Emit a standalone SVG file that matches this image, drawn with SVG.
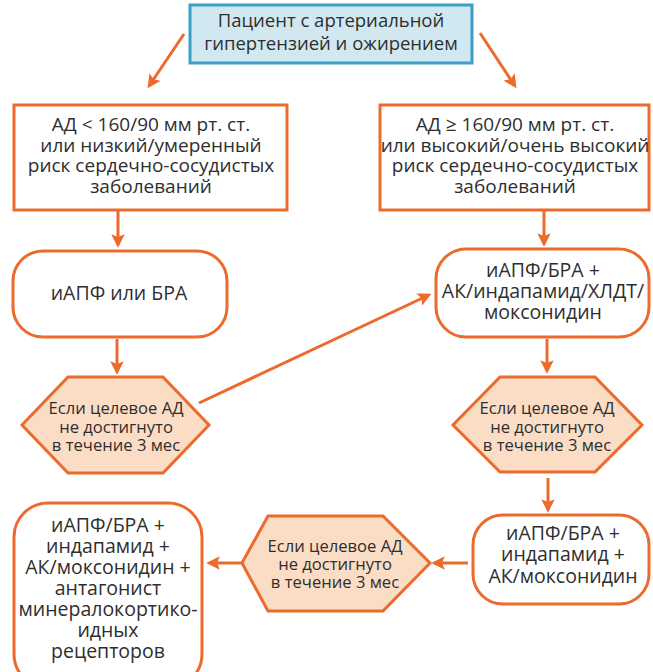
<svg xmlns="http://www.w3.org/2000/svg" width="653" height="672" viewBox="0 0 653 672">
<defs>
<style>
.t{font-family:"Open Sans","Noto Sans","Liberation Sans",sans-serif;fill:#2e2e2e;text-anchor:middle;font-size:19.5px}
.h{font-size:18.5px}
.r{font-size:19px}
.s{font-size:16.6px}
.box{fill:#fff;stroke:#ec6a2c;stroke-width:3}
.hex{fill:#fbdcc5;stroke:#ec6a2c;stroke-width:3}
.top{fill:#d2e8f1;stroke:#3aa0c8;stroke-width:3}
.c{stroke:#ec6a2c;stroke-width:3;fill:none;marker-end:url(#ah)}
</style>
<marker id="ah" viewBox="0 0 10 10" refX="8" refY="5" markerWidth="4.5" markerHeight="4.5" orient="auto" markerUnits="strokeWidth">
<path d="M0,0 L10,5 L0,10 L2,5 Z" fill="#ec6a2c"/>
</marker>
</defs>
<g id="connectors">
<line class="c" x1="184" y1="34" x2="149" y2="86"/>
<line class="c" x1="480" y1="33" x2="515" y2="86"/>
<line class="c" x1="118" y1="211" x2="118" y2="245"/>
<line class="c" x1="544" y1="211" x2="544" y2="244"/>
<line class="c" x1="117" y1="339" x2="117" y2="372"/>
<line class="c" x1="199" y1="403" x2="429" y2="295"/>
<line class="c" x1="547" y1="339" x2="547" y2="371"/>
<line class="c" x1="548" y1="478" x2="548" y2="510"/>
<line class="c" x1="468" y1="563" x2="434" y2="563"/>
<line class="c" x1="241" y1="563" x2="209" y2="563"/>
</g>
<g id="n1">
<rect class="top" x="190" y="5" width="282" height="58"/>
<text class="t h" x="331" y="27">Пациент с артериальной</text>
<text class="t h" x="331" y="50">гипертензией и ожирением</text>
</g>
<g id="n2">
<rect class="box" x="14" y="105" width="273" height="105"/>
<text class="t r" x="151" y="131">АД &lt; 160/90 мм рт. ст.</text>
<text class="t r" x="151" y="151.5">или низкий/умеренный</text>
<text class="t r" x="151" y="172">риск сердечно-сосудистых</text>
<text class="t r" x="151" y="192.5">заболеваний</text>
</g>
<g id="n3">
<rect class="box" x="380" y="105" width="269" height="105"/>
<text class="t r" x="515" y="131">АД ≥ 160/90 мм рт. ст.</text>
<text class="t r" x="515" y="151.5">или высокий/очень высокий</text>
<text class="t r" x="515" y="172">риск сердечно-сосудистых</text>
<text class="t r" x="515" y="192.5">заболеваний</text>
</g>
<g id="n4">
<rect class="box" x="13" y="251" width="214" height="86" rx="30"/>
<text class="t" x="119" y="300">иАПФ или БРА</text>
</g>
<g id="n5">
<rect class="box" x="436" y="249" width="213" height="88" rx="30"/>
<text class="t" x="543" y="277">иАПФ/БРА +</text>
<text class="t" x="543" y="298">АК/индапамид/ХЛДТ/</text>
<text class="t" x="543" y="319">моксонидин</text>
</g>
<g id="n6">
<polygon class="hex" points="68,377 163,377 209,425 163,473 68,473 22,425"/>
<text class="t s" x="116" y="414">Если целевое АД</text>
<text class="t s" x="116" y="432.5">не достигнуто</text>
<text class="t s" x="116" y="451">в течение 3 мес</text>
</g>
<g id="n7">
<polygon class="hex" points="500,377 595,377 642,425 595,472 500,472 453,425"/>
<text class="t s" x="547" y="414">Если целевое АД</text>
<text class="t s" x="547" y="432.5">не достигнуто</text>
<text class="t s" x="547" y="451">в течение 3 мес</text>
</g>
<g id="n8">
<rect class="box" x="473" y="515" width="176" height="89" rx="30"/>
<text class="t" x="563" y="540">иАПФ/БРА +</text>
<text class="t" x="563" y="561">индапамид +</text>
<text class="t" x="563" y="583">АК/моксонидин</text>
</g>
<g id="n9">
<polygon class="hex" points="268,516 383,516 430,563 383,611 268,611 242,563"/>
<text class="t s" x="335" y="552">Если целевое АД</text>
<text class="t s" x="335" y="570">не достигнуто</text>
<text class="t s" x="335" y="588">в течение 3 мес</text>
</g>
<g id="n10">
<rect class="box" x="14" y="503" width="188" height="185" rx="34"/>
<text class="t" x="108" y="532">иАПФ/БРА +</text>
<text class="t" x="108" y="553">индапамид +</text>
<text class="t" x="108" y="574">АК/моксонидин +</text>
<text class="t" x="108" y="595">антагонист</text>
<text class="t" x="108" y="616">минералокортико-</text>
<text class="t" x="108" y="637">идных</text>
<text class="t" x="108" y="658">рецепторов</text>
</g>
</svg>
